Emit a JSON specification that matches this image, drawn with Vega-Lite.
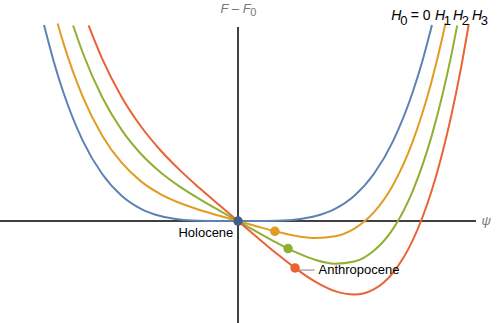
{
  "$schema": "https://vega.github.io/schema/vega-lite/v6.json",
  "width": 476,
  "height": 303,
  "autosize": {"type": "none"},
  "padding": {"left": 0, "top": 20, "right": 22, "bottom": 0},
  "config": {"view": {"stroke": null}},
  "datasets": {
    "axes": [
      {"psi": -1.227, "psi2": 1.227, "F": 0, "F2": 0},
      {"psi": 0, "psi2": 0, "F": -0.52, "F2": 0.99}
    ],
    "leader": [
      {"psi": 0.31, "psi2": 0.395, "F": -0.25, "F2": -0.25}
    ],
    "curves": [
      {"s": "H0", "psi": -1.0, "F": 1.0},
      {"s": "H0", "psi": -0.95, "F": 0.8145},
      {"s": "H0", "psi": -0.9, "F": 0.6561},
      {"s": "H0", "psi": -0.8, "F": 0.4096},
      {"s": "H0", "psi": -0.7, "F": 0.2401},
      {"s": "H0", "psi": -0.6, "F": 0.1296},
      {"s": "H0", "psi": -0.5, "F": 0.0625},
      {"s": "H0", "psi": -0.4, "F": 0.0256},
      {"s": "H0", "psi": -0.3, "F": 0.0081},
      {"s": "H0", "psi": -0.2, "F": 0.0016},
      {"s": "H0", "psi": -0.1, "F": 0.0001},
      {"s": "H0", "psi": 0, "F": 0},
      {"s": "H0", "psi": 0.1, "F": 0.0001},
      {"s": "H0", "psi": 0.2, "F": 0.0016},
      {"s": "H0", "psi": 0.3, "F": 0.0081},
      {"s": "H0", "psi": 0.4, "F": 0.0256},
      {"s": "H0", "psi": 0.5, "F": 0.0625},
      {"s": "H0", "psi": 0.6, "F": 0.1296},
      {"s": "H0", "psi": 0.7, "F": 0.2401},
      {"s": "H0", "psi": 0.8, "F": 0.4096},
      {"s": "H0", "psi": 0.9, "F": 0.6561},
      {"s": "H0", "psi": 0.95, "F": 0.8145},
      {"s": "H0", "psi": 1.0, "F": 1.0},

      {"s": "H1", "psi": -0.93, "F": 1.008},
      {"s": "H1", "psi": -0.9, "F": 0.908},
      {"s": "H1", "psi": -0.8, "F": 0.634},
      {"s": "H1", "psi": -0.7, "F": 0.436},
      {"s": "H1", "psi": -0.6, "F": 0.298},
      {"s": "H1", "psi": -0.5, "F": 0.2025},
      {"s": "H1", "psi": -0.4, "F": 0.1376},
      {"s": "H1", "psi": -0.3, "F": 0.0921},
      {"s": "H1", "psi": -0.2, "F": 0.0576},
      {"s": "H1", "psi": -0.1, "F": 0.0281},
      {"s": "H1", "psi": 0, "F": 0},
      {"s": "H1", "psi": 0.1, "F": -0.0279},
      {"s": "H1", "psi": 0.2, "F": -0.0544},
      {"s": "H1", "psi": 0.3, "F": -0.0759},
      {"s": "H1", "psi": 0.4, "F": -0.0864},
      {"s": "H1", "psi": 0.5, "F": -0.0775},
      {"s": "H1", "psi": 0.6, "F": -0.0384},
      {"s": "H1", "psi": 0.7, "F": 0.0441},
      {"s": "H1", "psi": 0.8, "F": 0.1856},
      {"s": "H1", "psi": 0.9, "F": 0.4041},
      {"s": "H1", "psi": 1.0, "F": 0.72},
      {"s": "H1", "psi": 1.05, "F": 0.9215},
      {"s": "H1", "psi": 1.07, "F": 1.011},

      {"s": "H2", "psi": -0.85, "F": 0.998},
      {"s": "H2", "psi": -0.8, "F": 0.8576},
      {"s": "H2", "psi": -0.7, "F": 0.6321},
      {"s": "H2", "psi": -0.6, "F": 0.4656},
      {"s": "H2", "psi": -0.5, "F": 0.3425},
      {"s": "H2", "psi": -0.4, "F": 0.2496},
      {"s": "H2", "psi": -0.3, "F": 0.1761},
      {"s": "H2", "psi": -0.2, "F": 0.1136},
      {"s": "H2", "psi": -0.1, "F": 0.0561},
      {"s": "H2", "psi": 0, "F": 0},
      {"s": "H2", "psi": 0.1, "F": -0.0559},
      {"s": "H2", "psi": 0.2, "F": -0.1104},
      {"s": "H2", "psi": 0.3, "F": -0.1599},
      {"s": "H2", "psi": 0.4, "F": -0.1984},
      {"s": "H2", "psi": 0.5, "F": -0.2175},
      {"s": "H2", "psi": 0.6, "F": -0.2064},
      {"s": "H2", "psi": 0.7, "F": -0.1519},
      {"s": "H2", "psi": 0.8, "F": -0.0384},
      {"s": "H2", "psi": 0.9, "F": 0.1521},
      {"s": "H2", "psi": 1.0, "F": 0.44},
      {"s": "H2", "psi": 1.05, "F": 0.6275},
      {"s": "H2", "psi": 1.1, "F": 0.8481},
      {"s": "H2", "psi": 1.13, "F": 0.9977},

      {"s": "H3", "psi": -0.77, "F": 0.998},
      {"s": "H3", "psi": -0.7, "F": 0.8281},
      {"s": "H3", "psi": -0.6, "F": 0.6336},
      {"s": "H3", "psi": -0.5, "F": 0.4825},
      {"s": "H3", "psi": -0.4, "F": 0.3616},
      {"s": "H3", "psi": -0.3, "F": 0.2601},
      {"s": "H3", "psi": -0.2, "F": 0.1696},
      {"s": "H3", "psi": -0.1, "F": 0.0841},
      {"s": "H3", "psi": 0, "F": 0},
      {"s": "H3", "psi": 0.1, "F": -0.0839},
      {"s": "H3", "psi": 0.2, "F": -0.1664},
      {"s": "H3", "psi": 0.3, "F": -0.2439},
      {"s": "H3", "psi": 0.4, "F": -0.3104},
      {"s": "H3", "psi": 0.5, "F": -0.3575},
      {"s": "H3", "psi": 0.6, "F": -0.3744},
      {"s": "H3", "psi": 0.7, "F": -0.3479},
      {"s": "H3", "psi": 0.8, "F": -0.2624},
      {"s": "H3", "psi": 0.9, "F": -0.0999},
      {"s": "H3", "psi": 1.0, "F": 0.16},
      {"s": "H3", "psi": 1.05, "F": 0.3335},
      {"s": "H3", "psi": 1.1, "F": 0.5401},
      {"s": "H3", "psi": 1.15, "F": 0.783},
      {"s": "H3", "psi": 1.19, "F": 1.0057}
    ],
    "dots": [
      {"s": "Holocene", "psi": 0, "F": 0},
      {"s": "H1", "psi": 0.19, "F": -0.052},
      {"s": "H2", "psi": 0.258, "F": -0.14},
      {"s": "H3", "psi": 0.294, "F": -0.239}
    ],
    "labels": [
      {"t": "H", "psi": 0.79, "F": 1.046, "g": "legI"},
      {"t": "0", "psi": 0.836, "F": 1.022, "g": "sub"},
      {"t": "= 0", "psi": 0.89, "F": 1.046, "g": "legR"},
      {"t": "H", "psi": 1.015, "F": 1.046, "g": "legI"},
      {"t": "1", "psi": 1.061, "F": 1.022, "g": "sub"},
      {"t": "H", "psi": 1.108, "F": 1.046, "g": "legI"},
      {"t": "2", "psi": 1.154, "F": 1.022, "g": "sub"},
      {"t": "H", "psi": 1.206, "F": 1.046, "g": "legI"},
      {"t": "3", "psi": 1.252, "F": 1.022, "g": "sub"},
      {"t": "F – F", "psi": -0.09, "F": 1.08, "g": "axI"},
      {"t": "0", "psi": 0.063, "F": 1.063, "g": "axSub"},
      {"t": "ψ", "psi": 1.255, "F": 0, "g": "axI"},
      {"t": "Holocene", "psi": -0.024, "F": -0.06, "g": "holo"},
      {"t": "Anthropocene", "psi": 0.415, "F": -0.25, "g": "anth"}
    ]
  },
  "encoding": {
    "x": {"field": "psi", "type": "quantitative", "axis": null, "scale": {"domain": [-1.227, 1.227], "nice": false, "zero": false}},
    "y": {"field": "F", "type": "quantitative", "axis": null, "scale": {"domain": [-0.52, 1.026], "nice": false, "zero": false}}
  },
  "layer": [
    {
      "data": {"name": "axes"},
      "mark": {"type": "rule", "color": "black", "strokeWidth": 1.5},
      "encoding": {"x2": {"field": "psi2"}, "y2": {"field": "F2"}}
    },
    {
      "data": {"name": "leader"},
      "mark": {"type": "rule", "color": "#aaaaaa", "strokeWidth": 1.5},
      "encoding": {"x2": {"field": "psi2"}, "y2": {"field": "F2"}}
    },
    {
      "data": {"name": "curves"},
      "mark": {"type": "line", "strokeWidth": 2, "interpolate": "monotone", "clip": false},
      "encoding": {
        "color": {"field": "s", "type": "nominal", "legend": null,
          "scale": {"domain": ["H0", "H1", "H2", "H3", "Holocene"], "range": ["#5E81B5", "#E19C24", "#8FB032", "#EB6235", "#3F5F8F"]}}
      }
    },
    {
      "data": {"name": "dots"},
      "mark": {"type": "circle", "size": 90, "opacity": 1},
      "encoding": {
        "color": {"field": "s", "type": "nominal", "legend": null,
          "scale": {"domain": ["H0", "H1", "H2", "H3", "Holocene"], "range": ["#5E81B5", "#E19C24", "#8FB032", "#EB6235", "#3F5F8F"]}}
      }
    },
    {
      "data": {"name": "labels"},
      "transform": [{"filter": "datum.g === 'legI'"}],
      "mark": {"type": "text", "align": "left", "baseline": "middle", "font": "Liberation Sans", "fontSize": 14, "fontStyle": "italic", "color": "black"},
      "encoding": {"text": {"field": "t"}}
    },
    {
      "data": {"name": "labels"},
      "transform": [{"filter": "datum.g === 'sub'"}],
      "mark": {"type": "text", "align": "left", "baseline": "middle", "font": "Liberation Sans", "fontSize": 13, "color": "black"},
      "encoding": {"text": {"field": "t"}}
    },
    {
      "data": {"name": "labels"},
      "transform": [{"filter": "datum.g === 'legR'"}],
      "mark": {"type": "text", "align": "left", "baseline": "middle", "font": "Liberation Sans", "fontSize": 14, "color": "black"},
      "encoding": {"text": {"field": "t"}}
    },
    {
      "data": {"name": "labels"},
      "transform": [{"filter": "datum.g === 'axI'"}],
      "mark": {"type": "text", "align": "left", "baseline": "middle", "font": "Liberation Sans", "fontSize": 13, "fontStyle": "italic", "color": "#777777"},
      "encoding": {"text": {"field": "t"}}
    },
    {
      "data": {"name": "labels"},
      "transform": [{"filter": "datum.g === 'axSub'"}],
      "mark": {"type": "text", "align": "left", "baseline": "middle", "font": "Liberation Sans", "fontSize": 11, "color": "#777777"},
      "encoding": {"text": {"field": "t"}}
    },
    {
      "data": {"name": "labels"},
      "transform": [{"filter": "datum.g === 'holo'"}],
      "mark": {"type": "text", "align": "right", "baseline": "middle", "font": "Liberation Sans", "fontSize": 13, "color": "black"},
      "encoding": {"text": {"field": "t"}}
    },
    {
      "data": {"name": "labels"},
      "transform": [{"filter": "datum.g === 'anth'"}],
      "mark": {"type": "text", "align": "left", "baseline": "middle", "font": "Liberation Sans", "fontSize": 13, "color": "black"},
      "encoding": {"text": {"field": "t"}}
    }
  ]
}
